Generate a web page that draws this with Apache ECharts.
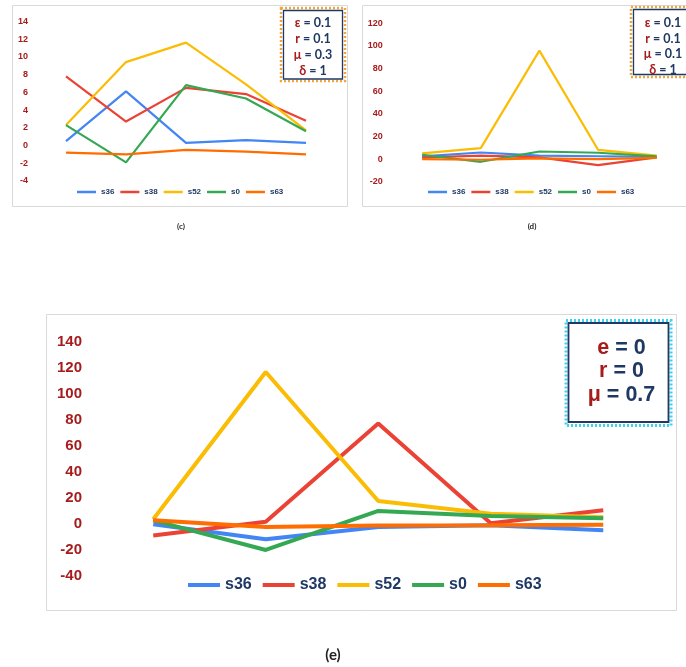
<!DOCTYPE html>
<html>
<head>
<meta charset="utf-8">
<script src="https://cdn.jsdelivr.net/npm/echarts@6/dist/echarts.min.js"></script>
<style>
  html, body { margin: 0; padding: 0; background: #ffffff; }
  #chart { width: 686px; height: 667px; }
</style>
</head>
<body>
<div id="chart"></div>
<script>
// Five sample points per series, shared by all three panels
const categories = ['1', '2', '3', '4', '5'];
const seriesNames = ['s36', 's38', 's52', 's0', 's63'];
const seriesColors = ['#4285f4', '#ea4335', '#fbbc04', '#34a853', '#ff6d01'];

// Panel (c): ε = 0.1, r = 0.1, μ = 0.3, δ = 1
const c_s36 = [0.5, 6.1, 0.3, 0.6, 0.3];
const c_s38 = [7.8, 2.7, 6.5, 5.8, 2.8];
const c_s52 = [2.3, 9.4, 11.6, 6.9, 1.7];
const c_s0  = [2.3, -1.9, 6.8, 5.3, 1.6];
const c_s63 = [-0.8, -1.0, -0.5, -0.7, -1.0];

// Panel (d): ε = 0.1, r = 0.1, μ = 0.1, δ = 1
const d_s36 = [2.3, 5.8, 3.0, 2.5, 2.0];
const d_s38 = [1.4, 3.0, 1.5, -5.3, 1.5];
const d_s52 = [5.0, 9.7, 95.8, 8.2, 3.0];
const d_s0  = [3.8, -2.4, 6.7, 5.6, 2.3];
const d_s63 = [0.0, -0.6, 0.6, 0.0, 1.0];

// Panel (e): e = 0, r = 0, μ = 0.7
const e_s36 = [-0.5, -12, -2.5, -1.2, -5];
const e_s38 = [-9, 1.5, 77, 0.3, 10.3];
const e_s52 = [3.4, 116.7, 17.5, 7.7, 5];
const e_s0  = [2.6, -20.2, 9.8, 5.9, 4.1];
const e_s63 = [2.6, -2.5, -1.3, -1.2, -0.8];

// Y-axis tick ranges
const c_yMin = -4,  c_yMax = 14,  c_yStep = 2;
const d_yMin = -20, d_yMax = 120, d_yStep = 20;
const e_yMin = -40, e_yMax = 140, e_yStep = 20;

// Parameter boxes
const c_params = [['ε', '= 0.1'], ['r', '= 0.1'], ['μ', '= 0.3'], ['δ', '= 1']];
const d_params = [['ε', '= 0.1'], ['r', '= 0.1'], ['μ', '= 0.1'], ['δ', '= 1']];
const e_params = [['e', '= 0'], ['r', '= 0'], ['μ', '= 0.7']];

const RED = '#a61c1c';
const NAVY = '#1f3864';
const FONT = '"Liberation Sans", Arial, sans-serif';
const BOX_FONT = 'Lato, "Open Sans", sans-serif';

const panels = [
  { data: [c_s36, c_s38, c_s52, c_s0, c_s63], min: c_yMin, max: c_yMax, step: c_yStep,
    grid: { left: 36, top: 21.3, width: 300, height: 159.7 },
    labelSize: 9, labelMargin: 8, lineWidth: 2.2,
    legend: { left: 77, top: 188, itemWidth: 19, itemHeight: 2.5, fontSize: 8, itemGap: 6 } },
  { data: [d_s36, d_s38, d_s52, d_s0, d_s63], min: d_yMin, max: d_yMax, step: d_yStep,
    grid: { left: 392.8, top: 23.3, width: 295, height: 158.4 },
    labelSize: 9, labelMargin: 10, lineWidth: 2.2,
    legend: { left: 428, top: 188, itemWidth: 19, itemHeight: 2.5, fontSize: 8, itemGap: 6 } },
  { data: [e_s36, e_s38, e_s52, e_s0, e_s63], min: e_yMin, max: e_yMax, step: e_yStep,
    grid: { left: 97, top: 341.7, width: 562.5, height: 234 },
    labelSize: 15, labelMargin: 15, lineWidth: 4,
    legend: { left: 188, top: 577, itemWidth: 32, itemHeight: 4, fontSize: 16, itemGap: 11 } }
];

const grids = [], xAxes = [], yAxes = [], series = [], legends = [];
panels.forEach((p, i) => {
  grids.push(Object.assign({ containLabel: false }, p.grid));
  xAxes.push({
    type: 'category', gridIndex: i, data: categories, boundaryGap: true,
    axisLine: { show: false }, axisTick: { show: false }, axisLabel: { show: false },
    splitLine: { show: false }
  });
  yAxes.push({
    type: 'value', gridIndex: i, min: p.min, max: p.max, interval: p.step,
    axisLine: { show: false }, axisTick: { show: false }, splitLine: { show: false },
    axisLabel: { color: RED, fontWeight: 'bold', fontSize: p.labelSize, fontFamily: FONT, margin: p.labelMargin }
  });
  p.data.forEach((vals, k) => {
    series.push({
      type: 'line', name: seriesNames[k], xAxisIndex: i, yAxisIndex: i, data: vals,
      symbol: 'none', smooth: false, color: seriesColors[k],
      lineStyle: { width: p.lineWidth, color: seriesColors[k] },
      emphasis: { disabled: true }, animation: false
    });
  });
  legends.push({
    data: seriesNames, left: p.legend.left, top: p.legend.top,
    icon: 'rect', itemWidth: p.legend.itemWidth, itemHeight: p.legend.itemHeight,
    itemGap: p.legend.itemGap, padding: 0, selectedMode: false,
    textStyle: { color: NAVY, fontWeight: 'bold', fontSize: p.legend.fontSize, fontFamily: FONT }
  });
});

// Builds a parameter box: dotted outer frame, solid inner frame, centred lines
function paramBox(box, params, opts) {
  const els = [
    { type: 'rect', shape: box.outer, z: 10,
      style: { fill: '#ffffff', stroke: opts.dotColor, lineWidth: opts.dotWidth, lineDash: opts.dash } },
    { type: 'rect', shape: box.inner, z: 11,
      style: { fill: 'none', stroke: NAVY, lineWidth: opts.innerWidth } }
  ];
  params.forEach((pr, j) => {
    els.push({
      type: 'text', x: box.cx, y: box.y0 + j * box.dy, z: 12,
      style: {
        text: '{a|' + pr[0] + '} {b|' + pr[1] + '}',
        align: 'center', verticalAlign: 'middle',
        font: 'bold ' + opts.fontSize + 'px ' + opts.font,
        rich: {
          a: { fill: RED, fontWeight: 'bold', fontSize: opts.fontSize, fontFamily: opts.font },
          b: { fill: NAVY, fontWeight: 'bold', fontSize: opts.fontSize, fontFamily: opts.font }
        }
      }
    });
  });
  return els;
}

const boxOptsSmall = { dotColor: '#f0a63c', dotWidth: 2.5, dash: [2, 2], innerWidth: 1.3, fontSize: 12.5, font: BOX_FONT };
const boxOptsLarge = { dotColor: '#3fd4ec', dotWidth: 3, dash: [2, 2], innerWidth: 1.8, fontSize: 21.5, font: FONT };

const graphics = [
  // panel frames
  { type: 'rect', shape: { x: 12.5, y: 5.5, width: 335, height: 201 }, z: 0,
    style: { fill: 'none', stroke: '#d9d9d9', lineWidth: 1 } },
  { type: 'rect', shape: { x: 362.5, y: 5.5, width: 340, height: 201 }, z: 0,
    style: { fill: 'none', stroke: '#d9d9d9', lineWidth: 1 } },
  { type: 'rect', shape: { x: 46.5, y: 314.5, width: 630, height: 296 }, z: 0,
    style: { fill: 'none', stroke: '#d9d9d9', lineWidth: 1 } },
  // captions
  { type: 'text', x: 181, y: 226, style: { text: '(c)', align: 'center', verticalAlign: 'middle',
      font: 'bold 8px ' + BOX_FONT, fill: '#222222' } },
  { type: 'text', x: 532, y: 226, style: { text: '(d)', align: 'center', verticalAlign: 'middle',
      font: 'bold 8px ' + BOX_FONT, fill: '#222222' } },
  { type: 'text', x: 333, y: 655, style: { text: '(e)', align: 'center', verticalAlign: 'middle',
      font: 'bold 15px ' + BOX_FONT, fill: '#222222' } }
].concat(
  paramBox({ outer: { x: 281, y: 8, width: 64, height: 73 }, inner: { x: 283.5, y: 10.5, width: 59, height: 68.5 },
             cx: 313, y0: 23.3, dy: 15.8 }, c_params, boxOptsSmall),
  paramBox({ outer: { x: 631, y: 7, width: 70, height: 70 }, inner: { x: 633.5, y: 9.5, width: 65, height: 65 },
             cx: 663, y0: 22.7, dy: 15.8 }, d_params, boxOptsSmall),
  paramBox({ outer: { x: 566, y: 320.5, width: 105, height: 105 }, inner: { x: 568.5, y: 323, width: 100, height: 99 },
             cx: 621.5, y0: 348, dy: 23.5 }, e_params, boxOptsLarge)
);

const chart = echarts.init(document.getElementById('chart'), null, { renderer: 'canvas' });
chart.setOption({
  animation: false,
  backgroundColor: '#ffffff',
  grid: grids,
  xAxis: xAxes,
  yAxis: yAxes,
  legend: legends,
  series: series,
  graphic: graphics
});
</script>
</body>
</html>
